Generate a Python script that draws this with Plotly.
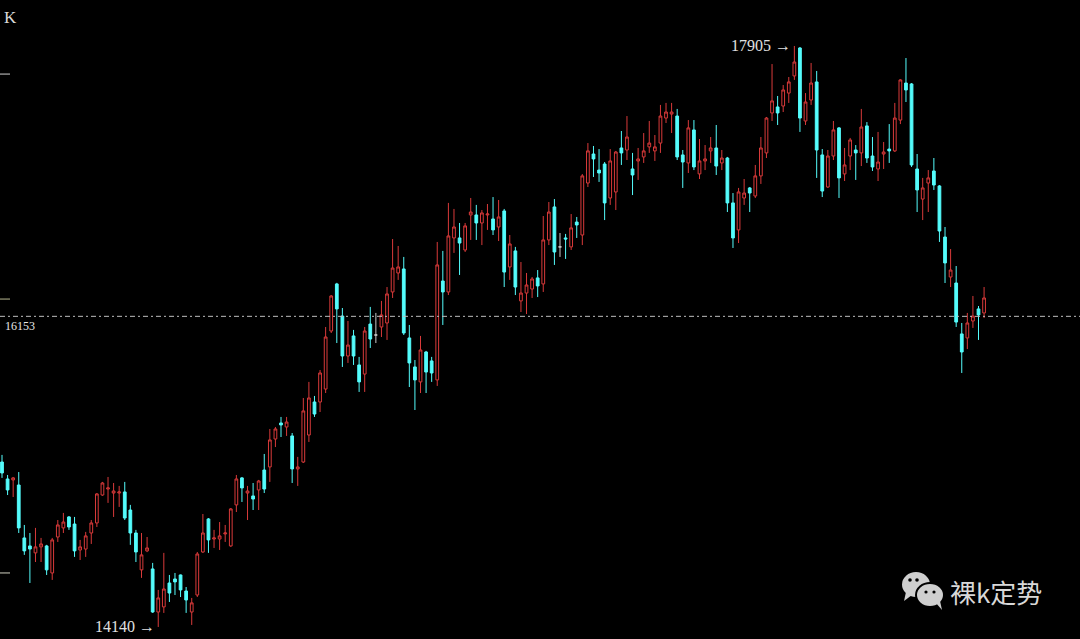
import plotly.graph_objects as go

opens = [15209,15099,15093,15060,14717,14665,14620,14659,14665,14490,
14723,14782,14853,14807,14639,14645,14749,14814,14995,15034,
15008,15008,15015,14898,14749,14510,14633,14516,14237,14270,
14425,14451,14477,14373,14237,14347,14626,14840,14710,14710,
14743,14665,14931,15106,15008,14989,15028,15157,15177,15358,
15462,15436,15378,15164,15209,15384,15598,15598,15682,16058,
16363,16155,15896,16026,15838,15779,16103,16032,16084,16110,
16311,16434,16460,16013,15825,15728,15922,15864,15741,16382,
16311,16661,16661,16583,16810,16810,16758,16810,16784,16732,
16836,16473,16577,16253,16304,16330,16402,16363,16648,16862,
16603,16661,16603,16764,16680,17017,17205,17101,17140,16920,
16959,17244,17231,17108,17160,17186,17251,17225,17276,17438,
17464,17451,17199,17147,17361,17076,17160,17225,17244,17147,
17179,16888,16713,16920,16985,16933,17063,17212,17471,17510,
17516,17600,17711,17892,17419,17555,17672,17199,16991,17192,
17374,17076,17192,17231,17212,17387,17192,17108,17205,17237,
17225,17425,17665,17659,17108,16913,17017,17095,16998,16667,
16408,16369,16039,16013,16123,16201,16175]

highs = [15255,15125,15112,15144,14801,14749,14782,14717,14672,14717,
14833,14879,14859,14853,14704,14756,14833,15008,15080,15112,
15073,15054,15080,14931,14769,14749,14723,14555,14380,14620,
14477,14490,14480,14399,14328,14626,14872,14846,14769,14820,
14801,14911,15125,15112,15054,15073,15093,15261,15423,15436,
15501,15501,15397,15242,15624,15728,15637,15805,16084,16291,
16370,16207,16123,16065,15890,16084,16214,16175,16253,16343,
16654,16609,16538,16097,15870,16026,15929,15890,16635,16577,
16888,16849,16758,16758,16920,16875,16842,16881,16926,16907,
16849,16680,16603,16505,16434,16408,16453,16803,16894,16913,
16693,16687,16816,16797,17075,17276,17257,17237,17153,17237,
17225,17354,17451,17212,17244,17341,17419,17328,17523,17536,
17536,17497,17231,17425,17425,17302,17263,17315,17393,17231,
17186,16952,16985,17043,16991,17134,17315,17445,17788,17581,
17652,17704,17905,17898,17600,17795,17743,17237,17231,17419,
17380,17244,17309,17263,17497,17412,17315,17348,17283,17399,
17536,17690,17827,17665,17205,17050,17101,17179,17004,16732,
16589,16479,16110,16175,16285,16220,16343]

lows = [15106,14995,14982,14749,14607,14425,14561,14561,14477,14445,
14691,14749,14769,14594,14574,14594,14678,14788,14990,14944,
14853,14918,14833,14672,14561,14458,14625,14231,14140,14231,
14302,14347,14334,14231,14153,14334,14620,14620,14652,14639,
14691,14659,14885,14950,14833,14898,14898,15008,15080,15306,
15371,15378,15073,15054,15203,15339,15501,15533,15656,16045,
15980,15825,15851,15838,15663,15663,15948,15980,16019,16000,
16272,16389,16032,15695,15546,15656,15656,15728,15702,16097,
16291,16564,16421,16570,16648,16648,16615,16713,16680,16641,
16343,16389,16291,16181,16168,16272,16278,16311,16615,16486,
16538,16525,16583,16661,16615,16991,17056,17024,16777,16875,
16842,17134,17166,16939,17037,17147,17212,17160,17212,17406,
17341,17166,16985,17082,17101,17043,17101,17147,17069,17101,
16829,16596,16628,16875,16829,16920,17011,17179,17419,17393,
17477,17536,17685,17348,17393,17523,17050,16926,16985,17166,
16920,17030,17101,17037,17127,17147,17095,17030,17108,17147,
17218,17399,17542,17121,16829,16777,16829,16972,16635,16369,
16343,16084,15786,15941,16078,16000,16142]

closes = [15138,15028,15106,14782,14633,14645,14659,14678,14510,14704,
14801,14820,14788,14633,14659,14730,14814,15002,15073,15041,
15021,15015,14846,14749,14626,14607,14652,14237,14328,14386,
14360,14432,14380,14315,14296,14613,14749,14704,14717,14730,
14749,14905,15099,15041,15021,14969,15086,15034,15352,15423,
15449,15468,15164,15177,15540,15624,15520,15786,16019,16285,
16201,15896,15967,15896,15728,16058,16006,16032,16162,16298,
16466,16473,16045,15851,15741,15935,15792,15786,16486,16311,
16674,16732,16628,16739,16829,16758,16823,16816,16713,16797,
16440,16622,16343,16304,16356,16395,16350,16648,16829,16570,
16603,16654,16726,16745,17063,17225,17173,17082,16888,17160,
17218,17212,17315,17069,17173,17225,17276,17251,17451,17477,
17477,17186,17153,17374,17121,17160,17173,17244,17127,17179,
16888,16661,16959,16952,16952,17063,17244,17438,17549,17471,
17620,17672,17801,17438,17542,17665,17231,16965,17192,17361,
17050,17134,17296,17212,17380,17179,17121,17153,17218,17225,
17438,17685,17620,17134,16972,16985,17050,17004,16706,16499,
16453,16116,15922,16110,16155,16162,16272]

ref_price = 16153
side_ticks = [17723, 16265, 14490]
side_tick_colors = ["#d0d0d0", "#b8b890", "#d0d0c0"]
brand_text = "裸k定势"

W, H = 1080, 639
RED = "#d93a3a"
CYAN = "#54fcfc"
DOJI = "#c8c8c8"

n = len(opens)
idx = list(range(n))
up = [i for i in idx if closes[i] > opens[i]]
dn = [i for i in idx if closes[i] < opens[i]]
dj = [i for i in idx if closes[i] == opens[i]]


def sub(lst, ids):
    return [lst[i] for i in ids]


fig = go.Figure()


def add(ids, inc_line, inc_fill, dec_line, dec_fill):
    fig.add_trace(go.Candlestick(
        x=ids, open=sub(opens, ids), high=sub(highs, ids),
        low=sub(lows, ids), close=sub(closes, ids),
        increasing=dict(line=dict(color=inc_line, width=1), fillcolor=inc_fill),
        decreasing=dict(line=dict(color=dec_line, width=1), fillcolor=dec_fill),
        whiskerwidth=0, showlegend=False))


add(up, RED, "#000000", RED, "#000000")
add(dn, CYAN, CYAN, CYAN, CYAN)
if dj:
    add(dj, DOJI, DOJI, DOJI, DOJI)

# axis ranges (pixel layout of the reference)
x0, dx = 2.0, 5.58
xr = [-x0 / dx, (W - x0) / dx]
yr = [14062, 18203]


def px(x):
    return x / W


def py(y):
    return 1 - y / H


shapes = []
shapes.append(dict(type="line", xref="paper", yref="y", x0=0, x1=1, y0=ref_price, y1=ref_price,
                   line=dict(color="#bdbdbd", width=1, dash="5px,3px,2px,3px")))
for lvl, col in zip(side_ticks, side_tick_colors):
    shapes.append(dict(type="line", xref="paper", yref="y", x0=0, x1=px(10), y0=lvl, y1=lvl,
                       line=dict(color=col, width=1)))

# WeChat-like icon
shapes.append(dict(type="circle", xref="paper", yref="paper", x0=px(902), x1=px(930), y0=py(597), y1=py(572),
                   fillcolor="#cfcfcf", line=dict(width=0)))
shapes.append(dict(type="path", xref="paper", yref="paper",
                   path=f"M {px(906)},{py(592)} L {px(904)},{py(601)} L {px(912)},{py(595)} Z",
                   fillcolor="#cfcfcf", line=dict(width=0)))
for ex in (910, 917):
    shapes.append(dict(type="circle", xref="paper", yref="paper", x0=px(ex - 1.8), x1=px(ex + 1.8),
                       y0=py(581.8), y1=py(578.2), fillcolor="#000000", line=dict(width=0)))
shapes.append(dict(type="circle", xref="paper", yref="paper", x0=px(916), x1=px(944), y0=py(607), y1=py(583),
                   fillcolor="#cfcfcf", line=dict(color="#000000", width=2)))
shapes.append(dict(type="path", xref="paper", yref="paper",
                   path=f"M {px(936)},{py(603)} L {px(942)},{py(610)} L {px(940)},{py(601)} Z",
                   fillcolor="#cfcfcf", line=dict(width=0)))
for ex in (926, 934):
    shapes.append(dict(type="circle", xref="paper", yref="paper", x0=px(ex - 1.6), x1=px(ex + 1.6),
                       y0=py(593.6), y1=py(590.4), fillcolor="#000000", line=dict(width=0)))

hi_i = max(idx, key=lambda i: highs[i])
lo_i = min(idx, key=lambda i: lows[i])
serif = "Liberation Serif"

annotations = [
    dict(x=hi_i - 0.2, y=highs[hi_i], xref="x", yref="y", text=f"{highs[hi_i]} →", showarrow=False,
         xanchor="right", yanchor="middle", font=dict(family=serif, size=16, color="#e0e0e0")),
    dict(x=lo_i - 0.2, y=lows[lo_i], xref="x", yref="y", text=f"{lows[lo_i]} →", showarrow=False,
         xanchor="right", yanchor="middle", font=dict(family=serif, size=16, color="#e0e0e0")),
    dict(x=px(3), y=ref_price, xref="paper", yref="y", text=str(ref_price), showarrow=False,
         xanchor="left", yanchor="top", yshift=-1, font=dict(family=serif, size=12, color="#e8e8e8")),
    dict(x=px(2), y=py(18), xref="paper", yref="paper", text="K", showarrow=False,
         xanchor="left", yanchor="middle", font=dict(family=serif, size=17, color="#d8d8d8")),
    dict(x=px(948), y=py(591), xref="paper", yref="paper", text=brand_text, showarrow=False,
         xanchor="left", yanchor="middle", font=dict(family="Noto Sans CJK SC", size=26, color="#d8d8d8")),
]

fig.update_layout(
    width=W, height=H, margin=dict(l=0, r=0, t=0, b=0),
    paper_bgcolor="#000000", plot_bgcolor="#000000",
    xaxis=dict(range=xr, visible=False, showgrid=False, zeroline=False, rangeslider=dict(visible=False)),
    yaxis=dict(range=yr, visible=False, showgrid=False, zeroline=False),
    shapes=shapes, annotations=annotations, showlegend=False,
)

fig.write_html("out.html", config={"displayModeBar": False},
               post_script="document.body.style.margin='0';document.body.style.overflow='hidden';")
